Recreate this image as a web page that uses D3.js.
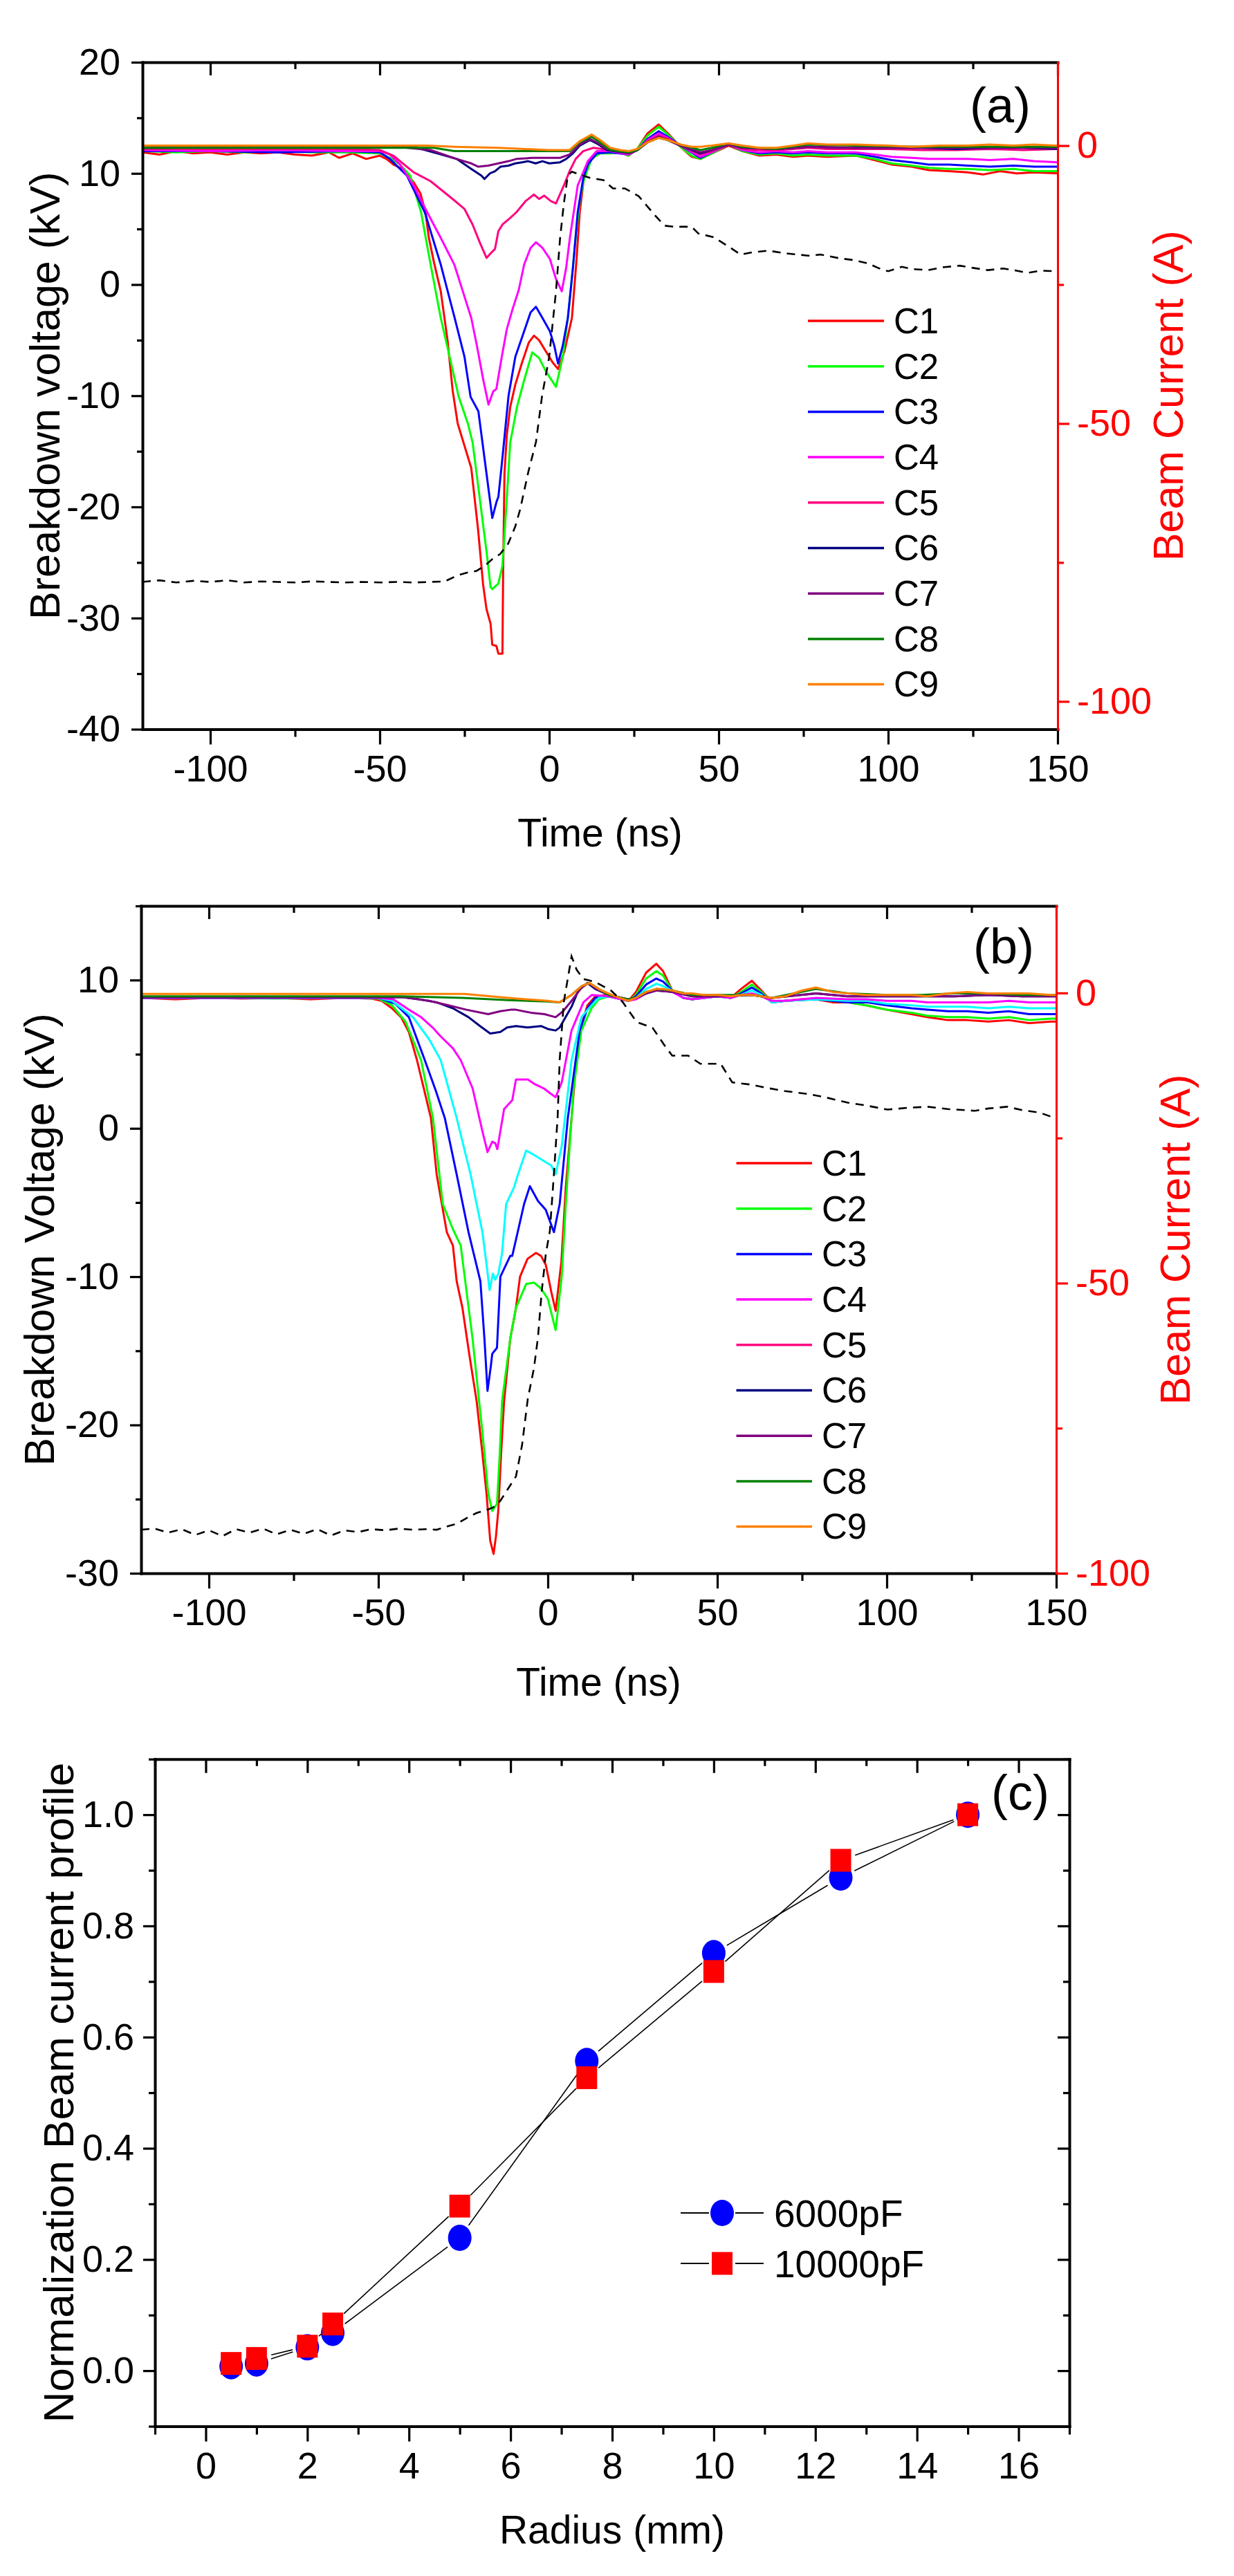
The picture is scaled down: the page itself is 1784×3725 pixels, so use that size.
<!DOCTYPE html>
<html><head><meta charset="utf-8">
<script src="https://cdn.jsdelivr.net/npm/d3@7"></script>
<style>body{margin:0;background:#fff}svg{display:block}</style>
</head><body><svg id="c" width="1784" height="3725"></svg>
<script>
// ---------------- DATA ----------------
const seriesNames = ["C1","C2","C3","C4","C5","C6","C7","C8","C9"];
const legendColors = ["#ff0000","#00ff00","#0000ff","#ff00ff","#ff0080","#000080","#800080","#008000","#ff8000"];
const traceColorsA = ["#ff0000","#00ff00","#0000ff","#ff00ff","#ff0080","#000080","#800080","#008000","#ff8000"];
const traceColorsB = ["#ff0000","#00ff00","#0000ff","#00ffff","#ff00ff","#000080","#800080","#008000","#ff8000"];

const timeMajor = [-100,-50,0,50,100,150];
const timeMinor = [-75,-25,25,75,125];
const aVoltMajor = [20,10,0,-10,-20,-30,-40];
const aVoltMinor = [15,5,-5,-15,-25,-35];
const aCurMajor = [0,-50,-100];
const aCurMinor = [-25,-75];
const bVoltMajor = [10,0,-10,-20,-30];
const bVoltMinor = [15,5,-5,-15,-25];
const bCurMajor = [0,-50,-100];
const bCurMinor = [-25,-75];
const radiusMajor = [0,2,4,6,8,10,12,14,16];
const radiusMinor = [-1,1,3,5,7,9,11,13,15,17];
const profMajor = [0,0.2,0.4,0.6,0.8,1.0];
const profMinor = [-0.1,0.1,0.3,0.5,0.7,0.9,1.1];

// Panel (a): [time ns, voltage kV]
const a_C1 = [[-120,11.9],[-115,11.7],[-110,12.0],[-105,11.8],[-100,11.9],[-95,11.7],[-90,11.9],[-85,11.8],[-80,11.9],[-75,11.7],[-70,11.6],[-65,11.9],[-62,11.4],[-58,11.8],[-54,11.3],[-50,11.6],[-48,11.3],[-46,10.8],[-44,10.5],[-42,10.0],[-40,9.2],[-38,8.2],[-36.5,6.5],[-35.5,4.2],[-34,2.0],[-32,-0.6],[-30,-5.0],[-28.5,-9.5],[-27,-12.5],[-25,-14.5],[-23,-16.5],[-21,-22],[-19.5,-27],[-18.5,-29.2],[-17.3,-30.5],[-16.8,-32.4],[-15.6,-32.5],[-15,-33.2],[-13.8,-33.2],[-13.6,-26],[-13.2,-17],[-12.5,-13.5],[-11.5,-11],[-10,-9],[-8,-7],[-6,-5.2],[-4.5,-4.6],[-3,-5.0],[-1,-6],[1,-7],[2.6,-7.6],[4.5,-6],[6.7,-3],[8,2],[9,6.5],[10.2,9.5],[11.4,10.8],[13.7,11.9],[16,12.0],[18,11.8],[21,11.9],[23.4,11.6],[26,12.2],[29,13.6],[32.3,14.4],[35,13.6],[38.7,12.4],[42,11.5],[44.6,11.3],[48,11.8],[52.9,12.5],[57,12.0],[62,11.6],[67,11.7],[72,11.5],[76.4,11.6],[82,11.5],[90.5,11.6],[96,11.2],[101,10.8],[107,10.6],[112,10.3],[118,10.2],[123.5,10.1],[128,9.9],[133,10.2],[138,10.0],[143,10.1],[150,10.0]];
const a_C2 = [[-120,12.0],[-110,11.9],[-100,12.0],[-90,11.9],[-80,12.0],[-70,11.9],[-60,11.9],[-50,11.8],[-47,11.4],[-44,10.8],[-41,9.8],[-37.8,6.5],[-35,1.8],[-32,-3],[-29,-7],[-26.7,-10.1],[-24,-12.5],[-22.6,-14.2],[-20.3,-19.7],[-18.5,-24],[-17.3,-27.2],[-16.8,-27.4],[-15,-26.9],[-13.8,-25.3],[-12.6,-19.7],[-11.5,-14.2],[-9.5,-11],[-7.4,-8.6],[-5,-6.1],[-3,-6.6],[-1,-7.8],[2,-9.2],[4,-6.5],[5.5,-3],[6.5,0],[7.8,4.2],[9,7.5],[10.2,9.4],[12.5,11.3],[15,11.8],[18,11.8],[21,11.9],[23.4,11.6],[26,12.2],[29,13.4],[32.3,14.2],[35,13.5],[38.7,12.4],[42,11.6],[44.6,11.3],[48,11.8],[52.9,12.6],[57,12.0],[62,11.7],[67,11.8],[72,11.6],[76.4,11.7],[82,11.6],[90.5,11.6],[96,11.3],[101,10.9],[107,10.7],[112,10.5],[118,10.4],[123.5,10.4],[130,10.3],[137,10.4],[143,10.2],[150,10.2]];
const a_C3 = [[-120,12.0],[-100,12.0],[-80,11.9],[-60,12.0],[-50,11.9],[-47,11.3],[-42,9.8],[-36.7,6.5],[-32,1.8],[-27.9,-3],[-25,-6.5],[-23.2,-10.1],[-20.9,-11.4],[-18.5,-17],[-16.8,-21],[-15.5,-19.5],[-15,-19.1],[-13.8,-15.6],[-12,-10],[-10,-6.5],[-7.4,-4.2],[-5.5,-2.5],[-3.9,-2],[-2,-3],[0.2,-4.2],[1.5,-5.5],[2.6,-7.1],[4,-5.5],[5.5,-3],[7,1.5],[8.4,6.5],[10,9.5],[11.4,10.8],[14,11.8],[18,11.9],[23.4,11.7],[26,12.1],[29,13.1],[32.3,13.8],[35,13.3],[38.7,12.5],[44.6,11.4],[48,11.9],[52.9,12.6],[57,12.1],[62,11.8],[67,11.9],[72,11.8],[76.4,11.9],[82,11.8],[90.5,11.8],[96,11.5],[101,11.2],[107,11.0],[112,10.8],[118,10.8],[123.5,10.7],[130,10.6],[137,10.7],[143,10.6],[150,10.6]];
const a_C4 = [[-120,12.1],[-100,12.0],[-80,12.1],[-60,12.0],[-50,12.0],[-47,11.7],[-44,10.8],[-40,8.9],[-36,6.5],[-32,4.2],[-28,1.8],[-25.5,-0.6],[-23,-3],[-21.4,-5.4],[-19.5,-8.5],[-17.9,-10.8],[-16.5,-9.6],[-15.6,-9.4],[-14,-6.5],[-12.5,-4],[-10.9,-2.3],[-9,-0.5],[-7.4,1.8],[-5.5,3.3],[-3.9,3.8],[-2,3.3],[0.2,2.3],[2,0.5],[3.7,-0.6],[5,1.5],[6.1,4.2],[8.4,8.9],[11.4,11.1],[14,12.0],[18,12.0],[23.4,11.7],[26,12.1],[29,13.0],[32.3,13.6],[35,13.2],[38.7,12.5],[44.6,11.5],[48,11.9],[52.9,12.6],[57,12.1],[62,11.9],[67,12.0],[72,11.9],[76.4,12.0],[82,11.9],[90.5,11.9],[96,11.7],[101,11.5],[107,11.4],[112,11.3],[118,11.3],[123.5,11.3],[130,11.2],[137,11.3],[143,11.1],[150,11.0]];
const a_C5 = [[-120,12.2],[-90,12.2],[-60,12.2],[-50,12.1],[-46,11.6],[-40,10.1],[-35,9.3],[-28.5,7.7],[-25,6.8],[-22.6,5.4],[-20.5,3.8],[-18.5,2.4],[-17,2.9],[-16,3.2],[-15,4.8],[-13.8,5.4],[-11.5,6.0],[-9.7,6.5],[-7,7.5],[-4.5,8.1],[-3,7.7],[-1.5,8.0],[0.5,7.5],[2,7.3],[4.3,8.9],[6,10.2],[7.8,11.3],[10,12.0],[13,12.3],[18,12.1],[23.4,11.8],[26,12.1],[29,12.9],[32.3,13.4],[35,13.1],[38.7,12.5],[44.6,11.7],[48,12.0],[52.9,12.6],[57,12.2],[62,12.1],[67,12.1],[72,12.2],[76.4,12.3],[82,12.2],[90.5,12.2],[100,12.2],[110,12.1],[120,12.1],[130,12.2],[140,12.1],[150,12.2]];
const a_C6 = [[-120,12.3],[-60,12.4],[-45,12.4],[-39,12.3],[-33,11.8],[-27.3,11.3],[-23,10.4],[-20,9.8],[-19.1,9.5],[-17.5,10.0],[-16,10.2],[-14.4,10.6],[-12,10.7],[-10,10.9],[-8,11.0],[-6.2,11.1],[-4,10.9],[-2,11.1],[0,10.9],[3.2,11.0],[5,11.3],[7,11.8],[9,12.5],[12,13.0],[14,12.7],[17,12.1],[23.4,11.8],[26,12.1],[29,12.8],[32.3,13.3],[35,13.0],[38.7,12.5],[44.6,11.8],[48,12.1],[52.9,12.6],[57,12.3],[67,12.2],[76.4,12.4],[90,12.3],[100,12.3],[110,12.3],[120,12.2],[130,12.3],[140,12.3],[150,12.2]];
const a_C7 = [[-120,12.3],[-45,12.4],[-35,12.1],[-27.3,11.3],[-23,10.9],[-20.9,10.6],[-18,10.7],[-15,10.9],[-12,11.1],[-9.7,11.3],[-5,11.4],[0,11.4],[3.2,11.4],[6,11.7],[9,12.6],[12,13.1],[14,12.8],[17,12.2],[23.4,11.8],[26,12.1],[29,12.8],[32.3,13.3],[35,13.0],[38.7,12.5],[44.6,11.9],[48,12.1],[52.9,12.6],[57,12.3],[67,12.2],[76.4,12.4],[90,12.3],[100,12.3],[110,12.3],[120,12.3],[130,12.3],[140,12.3],[150,12.3]];
const a_C8 = [[-120,12.3],[-50,12.3],[-34,12.3],[-28,12.0],[-20,12.0],[-10,12.0],[0,12.0],[6,12.0],[9,12.8],[12.5,13.3],[15,12.8],[18,12.1],[23.4,11.9],[26,12.1],[29,12.8],[32.3,13.2],[35,13.0],[38.7,12.6],[44.6,12.1],[48,12.3],[52.9,12.7],[57,12.4],[67,12.2],[76.4,12.6],[90,12.5],[110,12.4],[130,12.4],[150,12.4]];
const a_C9 = [[-120,12.5],[-36,12.5],[-28,12.4],[-15,12.3],[0,12.1],[6,12.1],[9,12.9],[12.5,13.5],[15,13.0],[18,12.3],[21,12.1],[23.4,12.0],[26,12.2],[29,12.8],[32.3,13.2],[35,13.0],[38.7,12.6],[42,12.4],[44.6,12.4],[48,12.5],[52.9,12.7],[57,12.5],[62,12.3],[67,12.3],[72,12.5],[76.4,12.7],[82,12.6],[90.5,12.6],[100,12.5],[107,12.4],[115,12.5],[123.5,12.5],[130,12.6],[137,12.5],[143,12.6],[150,12.5]];
// beam current (a): [time ns, current A]
const a_beam = [[-120,-78.5],[-115,-78.2],[-110,-78.6],[-105,-78.3],[-100,-78.5],[-95,-78.2],[-90,-78.6],[-85,-78.4],[-80,-78.5],[-75,-78.6],[-70,-78.4],[-65,-78.5],[-60,-78.6],[-55,-78.5],[-50,-78.6],[-45,-78.5],[-40,-78.6],[-35,-78.5],[-30.8,-78.4],[-27,-77.3],[-24,-76.8],[-21.4,-76.5],[-19,-75.6],[-16.8,-74.4],[-14.5,-73.5],[-12.1,-71.6],[-10,-68.5],[-8.6,-65.5],[-6.2,-58.8],[-3.9,-53.3],[-2.1,-45],[0,-38],[2,-26.2],[3.2,-16.7],[4.3,-10.5],[5.5,-5.3],[6.7,-4.7],[9,-5.2],[12,-5.8],[16,-6.2],[18.8,-7.7],[22.3,-7.7],[26.4,-9.1],[31,-12.4],[34,-14.4],[37,-14.6],[42,-14.6],[44,-15.8],[48.6,-16.5],[53,-18.2],[56.5,-19.6],[60,-19.2],[64.7,-18.9],[70,-19.4],[76.5,-19.8],[80,-19.6],[85.9,-20.3],[90,-20.6],[94.1,-21.2],[97,-22.0],[100,-22.6],[104,-21.8],[107,-22.2],[111.7,-22.4],[116,-21.9],[121.1,-21.6],[125,-22.0],[129.4,-22.4],[134,-22.1],[138,-22.5],[141.2,-22.9],[145,-22.5],[150,-22.6]];

// Panel (b)
const b_C1 = [[-120,8.8],[-110,8.7],[-100,8.8],[-90,8.75],[-80,8.8],[-70,8.7],[-60,8.8],[-52,8.75],[-49,8.6],[-46,8.1],[-43.3,7.5],[-41,6.5],[-38.6,4.6],[-36.5,2.6],[-34.5,0.7],[-32.8,-3.1],[-29.8,-7],[-28,-7.9],[-26.9,-10.3],[-25.2,-12.1],[-23,-15.5],[-21,-18.4],[-19.5,-21.5],[-18.1,-24.6],[-17,-27.8],[-16,-28.7],[-15.3,-27.5],[-14.6,-25.7],[-13.8,-22],[-12.9,-18.4],[-11.1,-14.2],[-9.4,-12.1],[-8.2,-10],[-6,-8.8],[-3.5,-8.4],[-2,-8.6],[-0.6,-9.2],[1,-11],[2.3,-12.3],[4,-9],[5.3,-4],[7,0.7],[8.2,4],[9.4,6.6],[11.7,8.3],[14,8.9],[17.9,9.0],[20,8.8],[23.8,8.6],[26,9.2],[29,10.5],[32,11.1],[34,10.6],[36.7,9.3],[40,8.8],[42.6,8.7],[46,8.9],[50,9.0],[54,8.8],[57,9.4],[60.2,9.95],[63,9.3],[66.1,8.5],[70,8.6],[75,8.7],[79.1,8.7],[84,8.5],[88.5,8.5],[94,8.3],[100,8.0],[107.3,7.7],[112,7.5],[118,7.3],[123.7,7.3],[130,7.2],[136,7.3],[142,7.1],[148.4,7.2],[150,7.2]];
const b_C2 = [[-120,8.8],[-100,8.8],[-80,8.75],[-60,8.8],[-50,8.75],[-46,8.3],[-42,7.2],[-37.4,4.6],[-33.9,0.7],[-31,-5.1],[-28,-6.8],[-25.7,-7.9],[-22.2,-14.2],[-19.3,-20.5],[-17.6,-24.6],[-16.4,-25.8],[-15,-25.3],[-14.2,-22],[-13.5,-18.4],[-11.1,-14.2],[-9.4,-12.1],[-6.4,-10.5],[-4.1,-10.4],[-2,-10.8],[0,-11.5],[2.3,-13.6],[4.1,-10],[5.3,-5.1],[7.6,2.7],[9.9,6.6],[12.9,8.1],[15,8.7],[17.9,8.9],[20,8.8],[23.8,8.6],[26,9.0],[29,10.1],[32,10.6],[34,10.3],[36.7,9.3],[40,8.8],[42.6,8.7],[46,8.8],[50,8.9],[54,8.8],[57,9.2],[60.2,9.7],[63,9.2],[66.1,8.5],[70,8.6],[79.1,8.7],[88.5,8.5],[94,8.3],[100,8.0],[107.3,7.8],[112,7.6],[118,7.5],[123.7,7.5],[130,7.4],[136,7.5],[142,7.3],[148.4,7.4],[150,7.4]];
const b_C3 = [[-120,8.8],[-90,8.8],[-50,8.8],[-45,8.4],[-41,7.5],[-36.3,4.6],[-33,2.5],[-30.4,0.7],[-26.9,-3.1],[-23.4,-7],[-19.9,-10.3],[-18.7,-14.2],[-17.8,-17.7],[-16.8,-16],[-16.4,-15.2],[-15,-14.8],[-14,-10],[-11.1,-8.6],[-10.5,-8.6],[-7,-5.1],[-5.3,-3.9],[-2.9,-4.9],[-0.6,-5.5],[1.8,-7],[3.5,-5.1],[5.9,0.7],[9.4,6.6],[11.7,8.1],[14,8.8],[17.9,8.9],[23.8,8.6],[26,8.9],[29,9.7],[32,10.1],[34,9.9],[36.7,9.3],[40,8.8],[42.6,8.7],[46,8.8],[50,8.9],[54,8.8],[57,9.1],[60.2,9.5],[63,9.1],[66.1,8.5],[70,8.6],[79.1,8.7],[88.5,8.5],[94,8.5],[100,8.3],[107.3,8.1],[112,8.0],[118,7.9],[123.7,7.9],[130,7.8],[136,7.9],[142,7.7],[148.4,7.7],[150,7.7]];
const b_C4 = [[-120,8.8],[-90,8.8],[-50,8.8],[-46,8.6],[-39.8,7.5],[-35,6.0],[-31.6,4.6],[-26.9,0.7],[-22.8,-3.1],[-19.3,-7],[-17.8,-9.7],[-17.2,-10.9],[-16.2,-9.8],[-15.5,-10.2],[-14.6,-9.8],[-13.5,-8.4],[-12.3,-5.1],[-10,-4],[-8.8,-3.1],[-6.4,-1.5],[-4,-1.8],[-1.2,-2.2],[1,-2.5],[2.3,-3.1],[4.1,-1.2],[7,4.6],[9.9,7.5],[12.9,8.3],[15,8.8],[17.9,8.9],[23.8,8.6],[26,8.8],[29,9.4],[32,9.75],[34,9.6],[36.7,9.3],[40,8.8],[42.6,8.7],[46,8.8],[50,8.9],[54,8.8],[57,9.0],[60.2,9.3],[63,9.0],[66.1,8.5],[70,8.6],[79.1,8.7],[88.5,8.6],[94,8.6],[100,8.4],[107.3,8.3],[112,8.2],[118,8.2],[123.7,8.2],[130,8.1],[136,8.2],[142,8.1],[148.4,8.1],[150,8.1]];
const b_C5 = [[-120,8.8],[-90,8.8],[-50,8.8],[-45.6,8.7],[-41,8.0],[-37.4,7.5],[-34,6.8],[-31.6,6.2],[-28,5.4],[-25.7,4.6],[-22.2,2.7],[-19.3,-0.2],[-17.8,-1.6],[-16.4,-0.9],[-15.5,-1.0],[-14.9,-1.4],[-12.9,1.3],[-10.5,1.9],[-9.4,3.3],[-5.9,3.3],[-4,3.0],[-1.2,2.7],[0.5,2.4],[2.3,2.1],[4.1,3.1],[7,6.6],[10.5,8.5],[13,9.0],[17.9,8.9],[23.8,8.6],[26,8.7],[29,9.1],[32,9.4],[34,9.3],[36.7,9.2],[40,8.8],[42.6,8.7],[46,8.8],[50,8.9],[54,8.8],[57,9.0],[60.2,9.1],[63,8.9],[66.1,8.6],[70,8.6],[79.1,8.8],[88.5,8.7],[94,8.7],[100,8.6],[107.3,8.6],[112,8.5],[118,8.5],[123.7,8.5],[130,8.5],[136,8.6],[142,8.5],[148.4,8.5],[150,8.5]];
const b_C6 = [[-120,8.85],[-43,8.85],[-38,8.7],[-32.8,8.5],[-28,8.1],[-23.4,7.5],[-20,6.9],[-17,6.4],[-14,6.5],[-12,6.8],[-9.4,6.9],[-6,6.8],[-2,6.9],[0,6.7],[2.3,6.6],[3.5,6.8],[7,8.2],[9,9.3],[11.7,9.8],[14,9.4],[17.9,9.0],[23.8,8.7],[26,8.8],[29,9.1],[32,9.3],[36.7,9.2],[42.6,8.9],[50,8.9],[60.2,9.0],[66.1,8.8],[79.1,9.1],[88.5,8.9],[100,8.9],[110,8.9],[120,8.9],[130,9.0],[140,8.9],[150,8.9]];
const b_C7 = [[-120,8.85],[-43,8.85],[-35,8.6],[-29.3,8.3],[-24,8.0],[-17.6,7.7],[-14,7.9],[-11,8.0],[-9.4,8.0],[-5,7.8],[-1,7.7],[2.3,7.5],[4.5,7.9],[7,8.6],[10,9.5],[12,9.8],[14.5,9.4],[17.9,9.0],[23.8,8.7],[26,8.8],[29,9.1],[32,9.3],[36.7,9.2],[42.6,8.9],[50,8.9],[60.2,9.0],[66.1,8.8],[79.1,9.1],[88.5,8.9],[100,8.9],[110,8.9],[120,8.9],[130,9.0],[140,8.9],[150,8.9]];
const b_C8 = [[-120,8.9],[-43,8.9],[-25,8.8],[-11.7,8.65],[0,8.55],[3.5,8.5],[7,9.0],[10,9.6],[12.3,9.8],[15,9.4],[17.9,9.0],[23.8,8.7],[26,8.8],[29,9.2],[32,9.4],[36.7,9.3],[42.6,9.0],[50,9.0],[60.2,9.0],[66.1,8.8],[79.1,9.4],[88.5,9.1],[100,9.0],[110,9.0],[120,9.1],[130,9.1],[140,9.0],[150,9.0]];
const b_C9 = [[-120,9.07],[-24.6,9.07],[-11.7,8.8],[0,8.6],[3.5,8.5],[7,9.0],[10,9.6],[12.3,9.8],[15,9.4],[17.9,9.1],[20,8.9],[23.8,8.6],[26,8.8],[29,9.2],[32,9.4],[34,9.4],[36.7,9.3],[40,9.1],[42.6,9.1],[46,9.0],[50,9.0],[54,8.9],[57,9.0],[60.2,9.0],[63,8.9],[66.1,8.8],[70,8.9],[75,9.3],[79.1,9.5],[84,9.2],[88.5,9.1],[94,9.0],[100,9.0],[107.3,9.0],[112,8.9],[118,9.1],[123.7,9.2],[130,9.1],[136,9.1],[142,9.1],[148.4,9.0],[150,9.0]];
const b_beam = [[-120,-92.5],[-116,-92.3],[-112,-93.0],[-108,-92.4],[-104,-93.4],[-100,-92.6],[-96,-93.6],[-92,-92.4],[-88,-93.0],[-84,-92.3],[-80,-93.3],[-76,-92.5],[-72,-93.2],[-68,-92.4],[-64,-93.5],[-60,-92.6],[-56,-92.9],[-52,-92.4],[-48,-92.6],[-44,-92.3],[-40,-92.5],[-36,-92.4],[-32.8,-92.5],[-29,-91.8],[-26.9,-91.5],[-24,-90.5],[-21,-89.6],[-17.6,-89],[-16,-88.6],[-14,-87.5],[-11.7,-85.4],[-9.4,-83.3],[-7.6,-77.9],[-5.9,-69.9],[-4.1,-64.7],[-2.9,-59.3],[-1.8,-51.4],[-0.6,-45],[0.6,-41],[1.8,-31.2],[2.9,-21.3],[3.5,-11.5],[4.7,-1.6],[7,6.3],[8.5,4],[10.5,2.4],[14,1.9],[18.7,0.4],[22,-1.5],[26.2,-5],[30.9,-6],[34.4,-9],[36.7,-10.8],[41.4,-10.8],[45,-12.2],[51,-12.2],[54.4,-15.4],[60,-15.8],[65,-16.4],[70,-16.9],[76.7,-17.4],[82,-18.0],[88.5,-18.9],[94,-19.4],[100.2,-20.1],[106,-19.8],[112,-19.6],[118,-20.0],[126,-20.3],[130,-19.9],[135.5,-19.6],[140,-20.2],[145,-20.6],[148.4,-21.3],[150,-21.5]];

// Panel (c)
const radius = [0.5,1,2,2.5,5,7.5,10,12.5,15];
const prof6000 = [0.008,0.013,0.042,0.068,0.239,0.557,0.751,0.887,1.0];
const prof10000 = [0.013,0.022,0.044,0.084,0.296,0.527,0.718,0.918,1.0];

// ---------------- DRAWING ----------------
const FONT = '"Liberation Sans", Arial, Helvetica, sans-serif';
const svg = d3.select("#c");
svg.append("rect").attr("width",1784).attr("height",3725).attr("fill","#fff");

function axisPair(parent, orient, scale, major, minor, majLen, minLen, pad, fmt, color, tx, ty, domW) {
  const mk = {bottom:d3.axisBottom, top:d3.axisTop, left:d3.axisLeft, right:d3.axisRight}[orient];
  const gMin = parent.append("g").attr("transform",`translate(${tx},${ty})`).style("color",color)
    .call(mk(scale).tickValues(minor).tickSize(minLen).tickSizeOuter(0).tickFormat(""));
  gMin.select(".domain").remove();
  const gMaj = parent.append("g").attr("transform",`translate(${tx},${ty})`).style("color",color)
    .call(mk(scale).tickValues(major).tickSize(majLen).tickSizeOuter(0).tickPadding(pad).tickFormat(fmt || ""));
  [gMin,gMaj].forEach(g=>g.selectAll(".tick line").attr("stroke-width",3.2));
  gMaj.select(".domain").attr("stroke-width",domW||4).attr("stroke-linecap","square");
  gMaj.attr("font-size",54).attr("font-family",FONT);
  return gMaj;
}
function text(x,y,s,size,opt) {
  opt = opt||{};
  const t = svg.append("text").attr("font-family",FONT).attr("font-size",size)
    .attr("fill",opt.fill||"#000").attr("text-anchor",opt.anchor||"start").text(s);
  if (opt.rotate) t.attr("transform",`translate(${x},${y}) rotate(${opt.rotate})`);
  else t.attr("x",x).attr("y",y);
  if (opt.dy) t.attr("dy",opt.dy);
  return t;
}

function timePanel(p) {
  const x = d3.scaleLinear().domain([-120,150]).range([p.x0,p.x1]);
  const y = d3.scaleLinear().domain(p.yDom).range([p.yB,p.yT]);
  const yR = d3.scaleLinear().domain(p.rDom).range([p.yB,p.yT]);
  const g = svg.append("g");
  const line = d3.line().x(d=>x(d[0])).y(d=>y(d[1]));
  p.series.forEach((s,i)=>g.append("path").attr("d",line(s)).attr("fill","none")
    .attr("stroke",p.colors[i]).attr("stroke-width",3).attr("stroke-linejoin","round"));
  const lineR = d3.line().x(d=>x(d[0])).y(d=>yR(d[1]));
  g.append("path").attr("d",lineR(p.beam)).attr("fill","none").attr("stroke","#000")
    .attr("stroke-width",2.6).attr("stroke-dasharray","12,9");
  const fmt = d=>String(d);
  axisPair(g,"bottom",x,timeMajor,timeMinor,22,11,15,fmt,"#000",0,p.yB);
  axisPair(g,"top",x,timeMajor,timeMinor,-19,-10,0,null,"#000",0,p.yT);
  axisPair(g,"left",y,p.yMaj,p.yMin,16,8,16,fmt,"#000",p.x0,0);
  axisPair(g,"right",yR,p.rMaj,p.rMin,17,9,11,fmt,"#ff0000",p.x1,0,3);
  // legend
  seriesNames.forEach((n,i)=>{
    const yy = p.legY0 + i*p.legDY;
    g.append("line").attr("x1",p.legX1).attr("x2",p.legX2).attr("y1",yy).attr("y2",yy)
      .attr("stroke",legendColors[i]).attr("stroke-width",3.5);
    text(p.legTX,yy,n,51,{dy:"0.35em"});
  });
  text((p.x0+p.x1)/2,p.xTitleY,"Time (ns)",57,{anchor:"middle"});
  text(p.yTitleX,(p.yT+p.yB)/2,p.yTitle,61,{anchor:"middle",rotate:-90});
  text(p.rTitleX,(p.yT+p.yB)/2,"Beam Current (A)",61,{anchor:"middle",rotate:-90,fill:"#ff0000"});
  text(p.labX,p.labY,p.label,72);
}

timePanel({x0:206,x1:1529,yT:90,yB:1054.5,yDom:[-40,20],rDom:[-105,15],
  yMaj:aVoltMajor,yMin:aVoltMinor,rMaj:aCurMajor,rMin:aCurMinor,
  series:[a_C1,a_C2,a_C3,a_C4,a_C5,a_C6,a_C7,a_C8,a_C9],colors:traceColorsA,beam:a_beam,
  legX1:1168,legX2:1278,legTX:1292,legY0:464,legDY:65.7,
  xTitleY:1224,yTitle:"Breakdown voltage (kV)",yTitleX:86,rTitleX:1710,label:"(a)",labX:1402,labY:177});

timePanel({x0:204,x1:1527,yT:1310,yB:2275,yDom:[-30,15],rDom:[-100,15],
  yMaj:bVoltMajor,yMin:bVoltMinor,rMaj:bCurMajor,rMin:bCurMinor,
  series:[b_C1,b_C2,b_C3,b_C4,b_C5,b_C6,b_C7,b_C8,b_C9],colors:traceColorsB,beam:b_beam,
  legX1:1064.5,legX2:1174,legTX:1188,legY0:1682,legDY:65.7,
  xTitleY:2452,yTitle:"Breakdown Voltage (kV)",yTitleX:77.5,rTitleX:1720,label:"(b)",labX:1407,labY:1393});

// Panel (c)
(function(){
  const x = d3.scaleLinear().domain([-1,17]).range([224,1546]);
  const y = d3.scaleLinear().domain([-0.1,1.1]).range([3508.5,2543.75]);
  const g = svg.append("g");
  const fmtY = d=>d.toFixed(1);
  const gap = 22;
  function drawLines(vals) {
    for (let i=0;i<radius.length-1;i++){
      const x1=x(radius[i]),y1=y(vals[i]),x2=x(radius[i+1]),y2=y(vals[i+1]);
      const L=Math.hypot(x2-x1,y2-y1);
      if (L<=2*gap+2) continue;
      const ux=(x2-x1)/L, uy=(y2-y1)/L;
      g.append("line").attr("x1",x1+ux*gap).attr("y1",y1+uy*gap).attr("x2",x2-ux*gap).attr("y2",y2-uy*gap)
        .attr("stroke","#000").attr("stroke-width",1.6);
    }
  }
  drawLines(prof6000); drawLines(prof10000);
  g.selectAll("ellipse.p6").data(radius).join("ellipse").attr("cx",d=>x(d)).attr("cy",(d,i)=>y(prof6000[i]))
    .attr("rx",17).attr("ry",19).attr("fill","#0000ff");
  g.selectAll("rect.p10").data(radius).join("rect").attr("x",d=>x(d)-15).attr("y",(d,i)=>y(prof10000[i])-16.5)
    .attr("width",30).attr("height",33).attr("fill","#ff0000");
  axisPair(g,"bottom",x,radiusMajor,radiusMinor,22,12,15,d=>String(d),"#000",0,3508.5);
  axisPair(g,"top",x,radiusMajor,radiusMinor,-20,-10,0,null,"#000",0,2543.75);
  axisPair(g,"left",y,profMajor,profMinor,17,9,13,fmtY,"#000",224,0);
  axisPair(g,"right",y,profMajor,profMinor,-17,-9,0,null,"#000",1546,0);
  // legend
  const legRows=[{y:3200,label:"6000pF",shape:"circle"},{y:3273,label:"10000pF",shape:"square"}];
  legRows.forEach(r=>{
    g.append("line").attr("x1",984).attr("x2",1025).attr("y1",r.y).attr("y2",r.y).attr("stroke","#000").attr("stroke-width",1.8);
    g.append("line").attr("x1",1063).attr("x2",1104).attr("y1",r.y).attr("y2",r.y).attr("stroke","#000").attr("stroke-width",1.8);
    if (r.shape==="circle") g.append("ellipse").attr("cx",1044).attr("cy",r.y).attr("rx",17).attr("ry",19).attr("fill","#0000ff");
    else g.append("rect").attr("x",1029).attr("y",r.y-16.5).attr("width",30).attr("height",33).attr("fill","#ff0000");
    text(1119,r.y,r.label,55,{dy:"0.36em"});
  });
  text(885,3678,"Radius (mm)",57,{anchor:"middle"});
  text(106,3026,"Normalization Beam current profile",62,{anchor:"middle",rotate:-90});
  text(1433,2617,"(c)",72);
})();
</script>
</body></html>
